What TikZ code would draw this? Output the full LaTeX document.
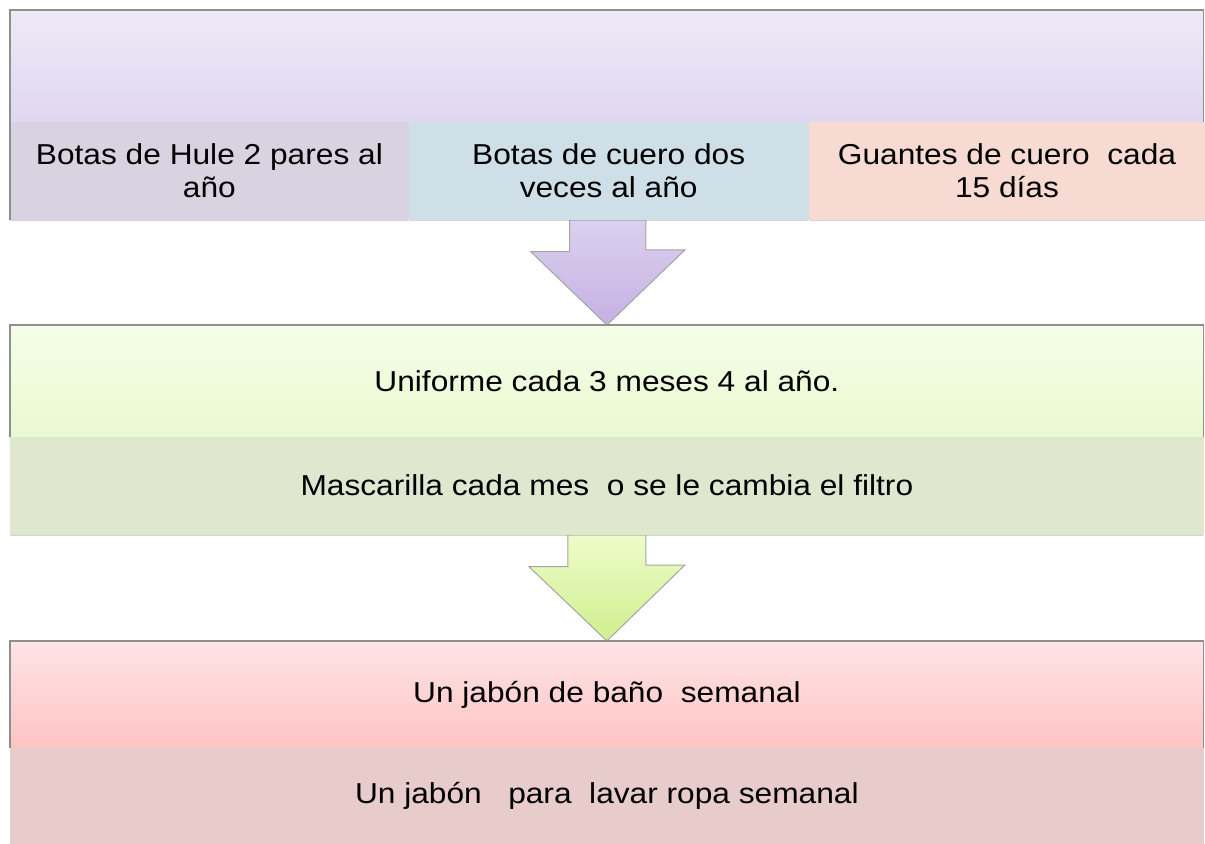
\documentclass[tikz,border=0pt]{standalone}
\usepackage{fontspec}
\setmainfont{Liberation Sans}[FakeStretch=1.1]
\usetikzlibrary{positioning,shadows,backgrounds}

\newlength{\du}
\setlength{\du}{0.5pt}

\definecolor{lilatop}{HTML}{EEE9F7}
\definecolor{lilabot}{HTML}{E0D7F0}
\definecolor{hulecol}{HTML}{D9D3E1}
\definecolor{cuerocol}{HTML}{CFDFE7}
\definecolor{guantecol}{HTML}{F7DAD1}
\definecolor{verdetop}{HTML}{F4FEE7}
\definecolor{verdebot}{HTML}{E9F9D1}
\definecolor{verdelow}{HTML}{DFE7CF}
\definecolor{rosatop}{HTML}{FFE4E6}
\definecolor{rosabot}{HTML}{FFC4C4}
\definecolor{rosalow}{HTML}{E8CBCB}
\definecolor{bordecol}{HTML}{8F8F8F}
\definecolor{flechaPtop}{HTML}{DDD0EF}
\definecolor{flechaPbot}{HTML}{C5B1E3}
\definecolor{flechaVtop}{HTML}{EEFCCB}
\definecolor{flechaVbot}{HTML}{CFEF8E}

\tikzset{
  textfont/.style={font=\fontsize{14.4}{16.5}\selectfont},
  upperbox/.style={rectangle, inner sep=0pt, anchor=north west, minimum width=1193\du,
    align=center, textfont},
  lowerbox/.style={rectangle, inner sep=0pt, align=center, textfont, line width=0.8\du,
    drop shadow={shadow xshift=0pt, shadow yshift=-2\du, opacity=.35}},
  borde/.style={draw=bordecol, line width=1.2\du},
  flecha/.style={draw=bordecol!80, line width=1\du, line join=miter}
}

\begin{document}
\begin{tikzpicture}[x=\du, y=-\du]
\useasboundingbox (0,0) rectangle (1205,844);

% primer bloque
\node[upperbox, minimum height=111\du, top color=lilatop, bottom color=lilabot] (head) at (10,10) {};
\node[lowerbox, anchor=north west, minimum width=398\du, minimum height=97\du, fill=hulecol, draw=hulecol] (botasHule) at (head.south west) {Botas de Hule 2 pares al\\año};
\node[lowerbox, right=0pt of botasHule, minimum width=399\du, minimum height=97\du, fill=cuerocol, draw=cuerocol] (botasCuero) {Botas de cuero dos\\veces al año};
\node[lowerbox, right=0pt of botasCuero, minimum width=396\du, minimum height=97\du, fill=guantecol, draw=guantecol] (guantes) {Guantes de cuero\ \ cada\\15 días};
\draw[borde] (botasHule.south west) -- (head.north west) -- (head.north east) -- (head.south east);

% segundo bloque
\node[upperbox, minimum height=111\du, top color=verdetop, bottom color=verdebot] (uniforme) at (10,325) {Uniforme cada 3 meses 4 al año.};
\node[lowerbox, below=0pt of uniforme, minimum width=1193\du, minimum height=97\du, fill=verdelow, draw=verdelow] (mascarilla) {Mascarilla cada mes\ \ o se le cambia el filtro};
\draw[borde] (uniforme.south west) -- (uniforme.north west) -- (uniforme.north east) -- (uniforme.south east);

% tercer bloque
\node[upperbox, minimum height=106\du, top color=rosatop, bottom color=rosabot] (jabonBano) at (10,641) {Un jabón de baño\ \ semanal};
\node[lowerbox, below=0pt of jabonBano, minimum width=1193\du, minimum height=96\du, fill=rosalow, draw=rosalow] (jabonRopa) {Un jabón\ \ \ para\ \ lavar ropa semanal};
\draw[borde] (jabonBano.south west) -- (jabonBano.north west) -- (jabonBano.north east) -- (jabonBano.south east);

% flechas
\begin{pgfonlayer}{background}
\draw[flecha, top color=flechaPtop, bottom color=flechaPbot] ([xshift=-39\du]botasCuero.south) -- ++(0,32) -- ++(-39,0) -- (uniforme.north) -- ++(78,-75) -- ++(-39,0) -- ++(0,-32) -- cycle;
\draw[flecha, top color=flechaVtop, bottom color=flechaVbot] ([xshift=-39\du]mascarilla.south) -- ++(0,32) -- ++(-39,0) -- (jabonBano.north) -- ++(78,-76) -- ++(-39,0) -- ++(0,-32) -- cycle;
\end{pgfonlayer}
\end{tikzpicture}
\end{document}
